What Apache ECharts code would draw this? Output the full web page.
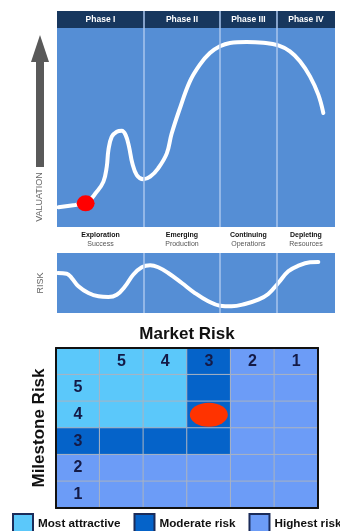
<!DOCTYPE html>
<html>
<head>
<meta charset="utf-8">
<script src="https://cdn.jsdelivr.net/npm/echarts@6/dist/echarts.min.js"></script>
<style>
html,body{margin:0;padding:0;background:#fff;}
#chart{width:340px;height:531px;}
</style>
</head>
<body>
<div id="chart"></div>
<script>
// ---- data ----
const phaseNames = ['Phase I', 'Phase II', 'Phase III', 'Phase IV'];
const phaseStages = ['Exploration', 'Emerging', 'Continuing', 'Depleting'];
const phaseFocus = ['Success', 'Production', 'Operations', 'Resources'];
const phaseEdges = [0, 31.3, 58.6, 79.1, 100];

const valuationX = [0.5, 6.5, 10.3, 14.3, 16.7, 17.9, 18.5, 19.7, 21.5, 23.3, 24.7, 25.9, 27.1, 28.7, 31.0, 33.5, 36.4, 39.5, 41.2, 44.0, 47.8, 51.4, 55.0, 58.6, 62.2, 68.2, 74.2, 79.6, 83.8, 87.4, 91.0, 94.0, 95.8];
const valuationY = [9.9, 11.1, 11.9, 17.7, 22.8, 30.3, 38.7, 45.4, 47.9, 48.4, 46.2, 40.4, 32.0, 26.1, 24.0, 25.3, 29.5, 37.0, 46.7, 58.8, 73.2, 81.6, 87.4, 90.8, 92.5, 93.0, 92.6, 91.3, 88.3, 83.3, 75.7, 66.5, 57.3];
const currentValuation = [10.3, 11.9];

const riskX = [0.3, 3.5, 5.3, 7.7, 11.3, 14.9, 18.5, 21.5, 24.5, 27.4, 30.5, 33.5, 36.4, 40.0, 44.9, 49.6, 54.4, 58.6, 62.8, 67.6, 72.4, 76.0, 79.6, 83.2, 86.8, 91.0, 94.0];
const riskY = [66.7, 65.5, 58.3, 44.5, 33.3, 27.8, 26.7, 30.5, 44.5, 63.8, 76.2, 79.5, 76.2, 66.7, 50, 33.3, 19.5, 12.2, 11.2, 15, 22.2, 31.7, 50, 69.5, 78.8, 84.5, 85];

const marketRiskLabels = ['', '5', '4', '3', '2', '1'];
const milestoneRiskLabels = ['', '5', '4', '3', '2', '1'];
const zoneNames = ['Most attractive', 'Moderate risk', 'Highest risk'];
// 0 = most attractive, 1 = moderate, 2 = highest (rows top->bottom, cols left->right)
const zoneGrid = [
  [0, 0, 0, 1, 2, 2],
  [0, 0, 0, 1, 2, 2],
  [0, 0, 0, 1, 2, 2],
  [1, 1, 1, 1, 2, 2],
  [2, 2, 2, 2, 2, 2],
  [2, 2, 2, 2, 2, 2]
];
const currentRisk = ['3', '4']; // market risk, milestone risk

// ---- styles ----
const PANEL = '#558ed5';
const NAVY = '#17375e';
const DIVIDER = '#a9c4ec';
const zoneColors = ['#5bc8fa', '#0563c9', '#6c9cf7'];
const FONT = 'Liberation Sans';

const chart = echarts.init(document.getElementById('chart'), null, {renderer: 'canvas'});

const boundaries = phaseEdges.slice(1, -1);
const phaseWidths = phaseNames.map((_, i) => +(phaseEdges[i + 1] - phaseEdges[i]).toFixed(2));
const dividerLine = {
  silent: true, symbol: 'none', label: {show: false},
  lineStyle: {color: DIVIDER, width: 1.5, type: 'solid'},
  emphasis: {disabled: true},
  data: boundaries.map(b => ({xAxis: b}))
};

const series = [];
// valuation curve
series.push({
  type: 'line', xAxisIndex: 0, yAxisIndex: 0, smooth: 0.4, symbol: 'none',
  lineStyle: {color: '#fff', width: 4, cap: 'round'},
  data: valuationX.map((x, i) => [x, valuationY[i]]),
  markLine: dividerLine, z: 3
});
series.push({
  type: 'scatter', xAxisIndex: 0, yAxisIndex: 0, symbolSize: [18, 16],
  itemStyle: {color: '#ff0000', opacity: 1}, data: [currentValuation], z: 5
});
// risk curve
series.push({
  type: 'line', xAxisIndex: 1, yAxisIndex: 1, smooth: 0.4, symbol: 'none',
  lineStyle: {color: '#fff', width: 4, cap: 'round'},
  data: riskX.map((x, i) => [x, riskY[i]]),
  markLine: dividerLine, z: 3
});
// phase header
phaseNames.forEach((name, i) => {
  series.push({
    type: 'bar', name: name, xAxisIndex: 2, yAxisIndex: 2, stack: 'hdr', barWidth: '100%',
    data: [phaseWidths[i]], itemStyle: {color: NAVY},
    label: {show: true, position: 'inside', formatter: name, color: '#fff', fontSize: 8.5, fontWeight: 'bold', fontFamily: FONT},
    markLine: i === 0 ? dividerLine : undefined,
    silent: true
  });
});
// stage labels
phaseStages.forEach((stage, i) => {
  series.push({
    type: 'bar', name: stage, xAxisIndex: 3, yAxisIndex: 3, stack: 'lbl', barWidth: '100%',
    data: [phaseWidths[i]], itemStyle: {color: 'rgba(0,0,0,0)'},
    label: {
      show: true, position: 'inside', formatter: '{b|' + stage + '}\n{s|' + phaseFocus[i] + '}',
      rich: {
        b: {fontSize: 7, fontWeight: 'bold', color: '#111', fontFamily: FONT, lineHeight: 9},
        s: {fontSize: 7, color: '#555', fontFamily: FONT, lineHeight: 9}
      }
    },
    silent: true
  });
});
// heatmap
const heatData = [];
zoneGrid.forEach((row, r) => row.forEach((z, c) => heatData.push([c, r, z])));
const heatIndex = series.length;
series.push({
  type: 'heatmap', xAxisIndex: 4, yAxisIndex: 4, data: heatData,
  itemStyle: {borderColor: '#aab3c2', borderWidth: 1},
  label: {
    show: true, fontSize: 16, fontWeight: 'bold', color: '#141a46', fontFamily: FONT,
    formatter: p => {
      const c = p.data[0], r = p.data[1];
      if (r === 0 && c > 0) return marketRiskLabels[c];
      if (c === 0 && r > 0) return milestoneRiskLabels[r];
      return '';
    }
  },
  emphasis: {disabled: true}, silent: true
});
series.push({
  type: 'scatter', xAxisIndex: 4, yAxisIndex: 4, symbolSize: [38, 24],
  itemStyle: {color: '#ff3300', opacity: 1}, data: [currentRisk], z: 6, silent: true
});
// legend entries
zoneNames.forEach((n, i) => {
  series.push({
    type: 'scatter', name: n, xAxisIndex: 4, yAxisIndex: 4, data: [],
    itemStyle: {color: zoneColors[i], opacity: 1, borderColor: '#1b2c5a', borderWidth: 1}
  });
});

const hiddenVal = (gi) => ({type: 'value', gridIndex: gi, min: 0, max: 100, show: false});
const hiddenCat = (gi) => ({type: 'category', gridIndex: gi, data: ['x'], show: false});
const heatAxisCommon = {
  axisTick: {show: false}, axisLabel: {show: false}, splitLine: {show: false},
  axisLine: {show: true, lineStyle: {color: '#111', width: 2}}, z: 10
};

const option = {
  animation: false,
  backgroundColor: '#fff',
  grid: [
    {left: 57, top: 28, width: 278, height: 199, show: true, backgroundColor: PANEL, borderWidth: 0},
    {left: 57, top: 253, width: 278, height: 60, show: true, backgroundColor: PANEL, borderWidth: 0},
    {left: 57, top: 11, width: 278, height: 17},
    {left: 57, top: 229, width: 278, height: 21},
    {left: 56, top: 348, width: 262, height: 160}
  ],
  xAxis: [
    hiddenVal(0), hiddenVal(1), hiddenVal(2), hiddenVal(3),
    Object.assign({type: 'category', gridIndex: 4, data: marketRiskLabels, position: 'bottom'}, heatAxisCommon),
    Object.assign({type: 'category', gridIndex: 4, data: marketRiskLabels, position: 'top',
      name: 'Market Risk', nameLocation: 'middle', nameGap: 5,
      nameTextStyle: {fontSize: 17, fontWeight: 'bold', color: '#111', fontFamily: FONT}}, heatAxisCommon)
  ],
  yAxis: [
    hiddenVal(0),
    {type: 'value', gridIndex: 1, min: 0, max: 100, axisLine: {show: false}, axisTick: {show: false},
      axisLabel: {show: false}, splitLine: {show: false},
      name: 'RISK', nameLocation: 'middle', nameGap: 12, nameRotate: 90,
      nameTextStyle: {fontSize: 9, color: '#666', fontFamily: FONT}},
    hiddenCat(2), hiddenCat(3),
    Object.assign({type: 'category', gridIndex: 4, data: milestoneRiskLabels, inverse: true, position: 'left',
      name: 'Milestone Risk', nameLocation: 'middle', nameGap: 8, nameRotate: 90,
      nameTextStyle: {fontSize: 17, fontWeight: 'bold', color: '#111', fontFamily: FONT}}, heatAxisCommon),
    Object.assign({type: 'category', gridIndex: 4, data: milestoneRiskLabels, inverse: true, position: 'right'}, heatAxisCommon)
  ],
  visualMap: {
    type: 'piecewise', show: false, seriesIndex: heatIndex, dimension: 2,
    pieces: zoneColors.map((c, i) => ({value: i, color: c}))
  },
  legend: {
    data: zoneNames, left: 12, top: 513, width: 400, icon: 'rect', itemWidth: 20, itemHeight: 20, itemGap: 13,
    padding: 0, selectedMode: false,
    textStyle: {fontSize: 11.7, fontWeight: 'bold', color: '#111', fontFamily: FONT}
  },
  graphic: [
    {type: 'polygon', shape: {points: [[40, 35], [31, 62], [49, 62]]}, style: {fill: '#595959'}, silent: true},
    {type: 'rect', shape: {x: 36, y: 61, width: 8, height: 106}, style: {fill: '#595959'}, silent: true},
    {type: 'text', x: 40, y: 197, rotation: Math.PI / 2,
      style: {text: 'VALUATION', fontSize: 9, fill: '#666', fontFamily: FONT, align: 'center', verticalAlign: 'middle'}, silent: true}
  ],
  series: series
};
chart.setOption(option);
</script>
</body>
</html>
